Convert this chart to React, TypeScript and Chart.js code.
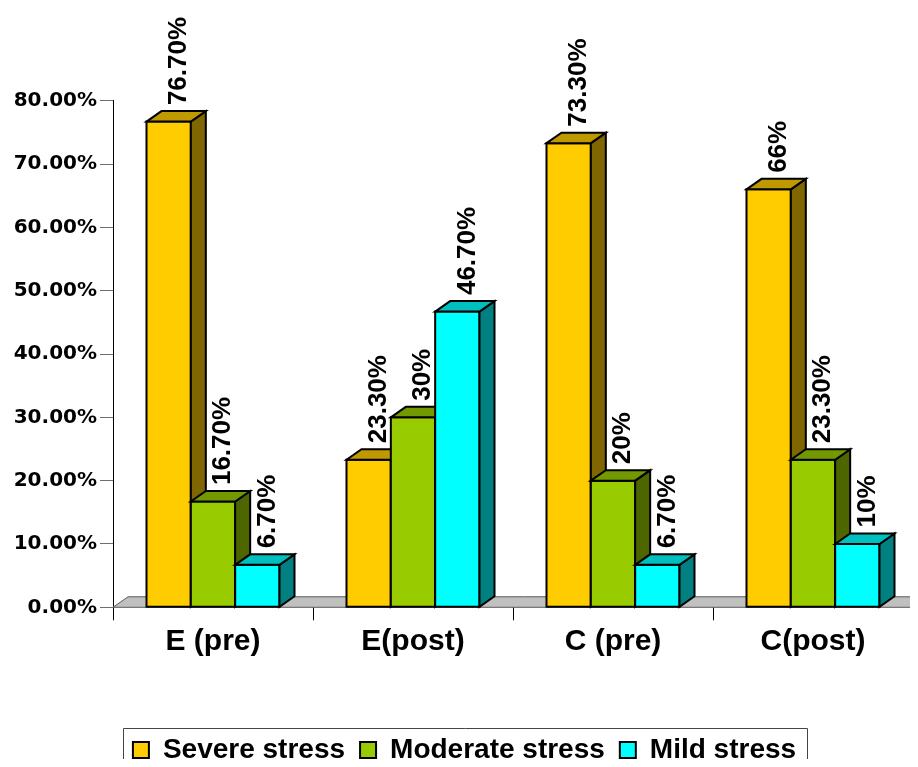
import { useEffect, useRef } from "react";
import { Chart, registerables } from "chart.js";

Chart.register(...registerables);

// Groups along the x axis
const categories = ["E (pre)", "E(post)", "C (pre)", "C(post)"];

// Stress levels (percent of participants)
const seriesNames = ["Severe stress", "Moderate stress", "Mild stress"];
const severe = [76.7, 23.3, 73.3, 66];
const moderate = [16.7, 30, 20, 23.3];
const mild = [6.7, 46.7, 6.7, 10];

// Y axis range
const yMin = 0;
const yMax = 80;
const yStep = 10;

// Face colours: front, top (lit) and side (shaded)
const frontColors = ["#FFCC00", "#99CC00", "#00FFFF"];
const topColors = ["#BF9900", "#739900", "#00BFBF"];
const sideColors = ["#806600", "#4D6600", "#008080"];

// Extrusion of the pseudo-3D bars and floor
const DEPTH_X = 15;
const DEPTH_Y = -10.5;

const LEGEND_PAD = 15;
const LEGEND_SHIFT = 4;

const pct = (v: number) => (Number.isInteger(v) ? `${v}%` : `${v.toFixed(2)}%`);

const poly = (ctx: CanvasRenderingContext2D, pts: number[][], fill: string, stroke: string, lw: number) => {
  ctx.beginPath();
  ctx.moveTo(pts[0][0], pts[0][1]);
  for (let i = 1; i < pts.length; i++) ctx.lineTo(pts[i][0], pts[i][1]);
  ctx.closePath();
  ctx.fillStyle = fill;
  ctx.fill();
  ctx.lineWidth = lw;
  ctx.strokeStyle = stroke;
  ctx.lineJoin = "miter";
  ctx.stroke();
};

const bars3d = {
  id: "bars3d",
  afterLayout(chart: any) {
    const lg = chart.legend;
    if (lg) {
      lg.left += LEGEND_SHIFT;
      lg.right += LEGEND_SHIFT;
    }
  },
  beforeDatasetsDraw(chart: any) {
    const { ctx, chartArea, scales } = chart;
    const base = scales.y.getPixelForValue(0);
    const l = chartArea.left;
    const r = chartArea.right;
    ctx.save();
    poly(
      ctx,
      [
        [l, base],
        [r, base],
        [r + DEPTH_X, base + DEPTH_Y],
        [l + DEPTH_X, base + DEPTH_Y],
      ],
      "#C0C0C0",
      "#5a5a5a",
      1
    );
    ctx.restore();
  },
  beforeDatasetDraw() {
    return false;
  },
  afterDatasetsDraw(chart: any) {
    const { ctx } = chart;
    const items: any[] = [];
    chart.data.datasets.forEach((ds: any, di: number) => {
      const meta = chart.getDatasetMeta(di);
      meta.data.forEach((el: any, i: number) => {
        const p = el.getProps(["x", "y", "base", "width"], true);
        items.push({ ...p, di, value: ds.data[i] });
      });
    });
    items.sort((a, b) => a.x - b.x);
    ctx.save();
    for (const b of items) {
      const L = b.x - b.width / 2;
      const R = b.x + b.width / 2;
      const T = b.y;
      const B = b.base;
      poly(ctx, [[L, T], [R, T], [R, B], [L, B]], frontColors[b.di], "#000", 2);
      poly(
        ctx,
        [
          [R, T],
          [R + DEPTH_X, T + DEPTH_Y],
          [R + DEPTH_X, B + DEPTH_Y],
          [R, B],
        ],
        sideColors[b.di],
        "#000",
        2
      );
      poly(
        ctx,
        [
          [L, T],
          [L + DEPTH_X, T + DEPTH_Y],
          [R + DEPTH_X, T + DEPTH_Y],
          [R, T],
        ],
        topColors[b.di],
        "#000",
        2
      );
    }
    // Value labels, rotated to read bottom-to-top
    ctx.fillStyle = "#000";
    ctx.font = 'bold 26px "Liberation Sans", Arial, sans-serif';
    ctx.textAlign = "left";
    ctx.textBaseline = "middle";
    for (const b of items) {
      ctx.save();
      ctx.translate(b.x + 10, b.y + DEPTH_Y - 6);
      ctx.rotate(-Math.PI / 2);
      ctx.fillText(pct(b.value), 0, 0);
      ctx.restore();
    }
    ctx.restore();
  },
  afterDraw(chart: any) {
    const lg = chart.legend;
    if (!lg || !lg.lineWidths) return;
    const { ctx } = chart;
    const lineW = lg.lineWidths[0];
    const start = (lg.left + LEGEND_PAD + lg.right - lineW) / 2;
    const left = Math.round(start - 10) + 0.5;
    const right = Math.round(start + lineW - LEGEND_PAD + 11) + 0.5;
    const top = Math.round(lg.top + LEGEND_PAD + 6 - 14) + 0.5;
    const bottom = chart.height + 5;
    ctx.save();
    ctx.strokeStyle = "#444";
    ctx.lineWidth = 1;
    ctx.beginPath();
    ctx.moveTo(left, bottom);
    ctx.lineTo(left, top);
    ctx.lineTo(right, top);
    ctx.lineTo(right, bottom);
    ctx.stroke();
    ctx.restore();
  },
};

export default function App() {
  const canvasRef = useRef<HTMLCanvasElement>(null);

  useEffect(() => {
    const canvas = canvasRef.current;
    if (!canvas) return;
    const seriesValues = [severe, moderate, mild];
    const chart = new Chart(canvas, {
      type: "bar",
      data: {
        labels: categories,
        datasets: seriesNames.map((name, i) => ({
          label: name,
          data: seriesValues[i],
          backgroundColor: frontColors[i],
          borderColor: "#000",
          borderWidth: 2,
          categoryPercentage: 0.665,
          barPercentage: 1,
        })),
      },
      options: {
        responsive: false,
        animation: false,
        devicePixelRatio: 1,
        layout: { padding: { top: 92.7, right: 5, bottom: 0, left: 0 } },
        plugins: {
          tooltip: { enabled: false },
          legend: {
            position: "bottom",
            labels: {
              boxWidth: 16,
              boxHeight: 16,
              padding: LEGEND_PAD,
              color: "#000",
              font: { family: '"Liberation Sans", Arial, sans-serif', size: 28, weight: "bold" },
            },
          },
        },
        scales: {
          x: {
            grid: {
              display: true,
              drawOnChartArea: false,
              drawTicks: true,
              tickLength: 13,
              color: "#000",
              offset: true,
            },
            border: { display: false },
            ticks: {
              color: "#000",
              padding: 3,
              maxRotation: 0,
              autoSkip: false,
              font: { family: '"Liberation Sans", Arial, sans-serif', size: 30, weight: "bold" },
            },
            afterFit: (scale: any) => {
              scale.height = 113.7;
            },
          },
          y: {
            min: yMin,
            max: yMax,
            grid: {
              display: true,
              drawOnChartArea: false,
              drawTicks: true,
              tickLength: 13,
              color: "#6e6e6e",
            },
            border: { display: true, color: "#000", width: 1 },
            ticks: {
              stepSize: yStep,
              color: "#000",
              padding: 3,
              font: { family: '"DejaVu Sans", sans-serif', size: 20, weight: "bold" },
              callback: (v: any) => `${Number(v).toFixed(2)}%`,
            },
            afterFit: (scale: any) => {
              scale.width = 105;
            },
          },
        },
      },
      plugins: [bars3d],
    });
    return () => chart.destroy();
  }, []);

  return (
    <div style={{ width: 910, height: 759, marginBottom: -8, overflow: "hidden" }}>
      <canvas ref={canvasRef} width={910} height={766} style={{ display: "block" }} />
    </div>
  );
}
